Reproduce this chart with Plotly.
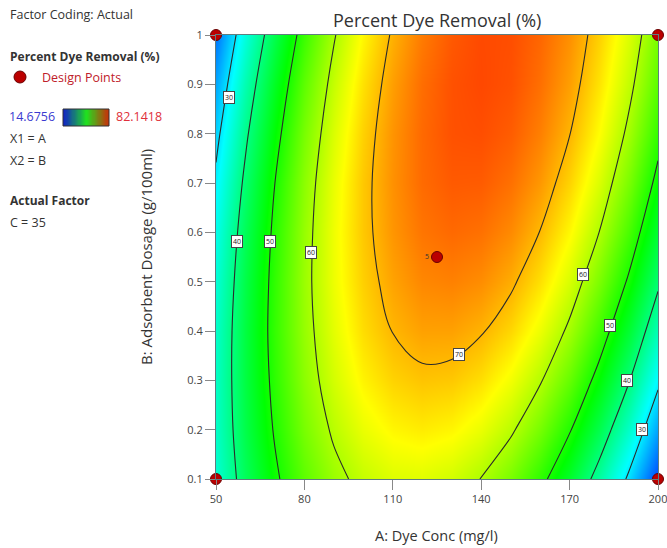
import plotly.graph_objects as go

# ---------------- data ----------------
dye_conc = [50, 60, 70, 80, 90, 100, 110, 120, 130, 140, 150, 160, 170, 180, 190, 200]   # A (mg/l)
dosage = [0.1, 0.2, 0.3, 0.4, 0.5, 0.6, 0.7, 0.8, 0.9, 1.0]                              # B (g/100ml)
# Percent dye removal (%) estimated on the grid, rows = dosage, cols = dye_conc
removal = [
    [34.5, 42.4, 49.1, 54.5, 58.6, 61.4, 63.0, 63.2, 62.2, 59.9, 56.3, 51.5, 45.4, 37.9, 29.2, 19.3],
    [35.2, 43.5, 50.5, 56.3, 60.7, 63.9, 65.8, 66.5, 65.8, 63.9, 60.7, 56.2, 50.4, 43.4, 35.1, 25.4],
    [35.4, 44.0, 51.4, 57.6, 62.4, 66.0, 68.2, 69.2, 68.9, 67.4, 64.5, 60.4, 55.0, 48.3, 40.4, 31.1],
    [35.1, 44.1, 51.9, 58.3, 63.5, 67.5, 70.1, 71.5, 71.5, 70.3, 67.9, 64.1, 59.1, 52.7, 45.1, 36.3],
    [34.2, 43.6, 51.7, 58.6, 64.2, 68.4, 71.4, 73.2, 73.6, 72.8, 70.7, 67.3, 62.6, 56.6, 49.4, 40.9],
    [32.9, 42.6, 51.1, 58.3, 64.3, 68.9, 72.3, 74.4, 75.2, 74.7, 73.0, 69.9, 65.6, 60.0, 53.2, 45.0],
    [31.0, 41.1, 50.0, 57.6, 63.9, 68.9, 72.6, 75.1, 76.2, 76.1, 74.7, 72.1, 68.1, 62.9, 56.4, 48.6],
    [28.6, 39.1, 48.3, 56.3, 62.9, 68.3, 72.4, 75.2, 76.8, 77.0, 76.0, 73.7, 70.1, 65.3, 59.1, 51.7],
    [25.7, 36.6, 46.2, 54.5, 61.5, 67.2, 71.7, 74.9, 76.8, 77.4, 76.8, 74.8, 71.6, 67.1, 61.3, 54.3],
    [22.3, 33.6, 43.5, 52.2, 59.6, 65.7, 70.5, 74.0, 76.3, 77.3, 77.0, 75.4, 72.6, 68.4, 63.0, 56.3],
]
z_min, z_max = 14.6756, 82.1418
contour_levels = [30, 40, 50, 60, 70]

design_A = [50, 50, 200, 200, 125]
design_B = [0.1, 1.0, 0.1, 1.0, 0.55]
design_text = ["", "", "", "", "5"]

x_ticks = [50, 80, 110, 140, 170, 200]
y_ticks = [0.1, 0.2, 0.3, 0.4, 0.5, 0.6, 0.7, 0.8, 0.9, 1.0]
y_ticktext = ["0.1", "0.2", "0.3", "0.4", "0.5", "0.6", "0.7", "0.8", "0.9", "1"]

# contour label placement (value, A, B)
label_vals = ["30", "40", "50", "60", "70", "60", "50", "40", "30"]
label_A = [54.4, 57.0, 68.3, 82.1, 132.5, 174.6, 183.7, 189.4, 194.5]
label_B = [0.874, 0.581, 0.581, 0.559, 0.353, 0.514, 0.412, 0.299, 0.200]

# ---------------- layout helpers ----------------
W, H = 667, 548
FONT = "Open Sans"
def px(x):
    return x / W
def py(y):
    return 1 - y / H

rainbow = [[0.0, "#0000ff"], [0.25, "#00ffff"], [0.5, "#00ff00"], [0.75, "#ffff00"], [1.0, "#ff0000"]]

fig = go.Figure()

fig.add_trace(go.Heatmap(
    x=dye_conc, y=dosage, z=removal, zmin=z_min, zmax=z_max,
    colorscale=rainbow, zsmooth="best", showscale=False, hoverinfo="skip",
))
fig.add_trace(go.Contour(
    x=dye_conc, y=dosage, z=removal,
    autocontour=False,
    contours=dict(start=contour_levels[0], end=contour_levels[-1], size=10, coloring="none"),
    line=dict(color="#2a2a2a", width=1.1, smoothing=1.0),
    showscale=False, hoverinfo="skip",
))
fig.add_trace(go.Scatter(
    x=design_A, y=design_B, mode="markers+text", text=design_text,
    textposition="middle left", textfont=dict(size=7, color="#333", family=FONT),
    marker=dict(size=11, color="#bb0000", line=dict(color="#6a0000", width=1)),
    cliponaxis=False, showlegend=False, hoverinfo="skip",
))

# legend colour bar (small heatmap on its own axes)
fig.add_trace(go.Heatmap(
    x=list(range(40)), y=[0], z=[list(range(40))],
    colorscale=[[0, "#1020c8"], [0.5, "#20e020"], [1, "#d02808"]],
    zsmooth="best", showscale=False, hoverinfo="skip", xaxis="x2", yaxis="y2",
))

axis_common = dict(showgrid=False, zeroline=False, showline=True, mirror=True, automargin=False,
                   linecolor="#5f7d7f", linewidth=1, ticks="outside", ticklen=10,
                   ticklabeloverflow="allow",
                   tickcolor="#888", tickfont=dict(size=11, color="#444", family=FONT))

fig.update_layout(
    template="none",
    width=W, height=H, margin=dict(l=0, r=0, t=0, b=0, pad=0),
    paper_bgcolor="white", plot_bgcolor="white", showlegend=False,
    font=dict(family=FONT, color="#333"),
    xaxis=dict(domain=[px(216), px(658)], range=[50, 200], tickvals=x_ticks, **axis_common),
    yaxis=dict(domain=[py(479), py(35)], range=[0.1, 1.0], tickvals=y_ticks,
               ticktext=y_ticktext, **axis_common),
    xaxis2=dict(domain=[px(63), px(109)], anchor="y2", visible=False, range=[0, 39], automargin=False),
    yaxis2=dict(domain=[py(126), py(109)], anchor="x2", visible=False, range=[-0.5, 0.5], automargin=False),
)

ann = []
# title and axis titles
ann.append(dict(x=px(437), y=py(20), text="Percent Dye Removal (%)", font=dict(size=18, color="#333")))
ann.append(dict(x=px(436), y=py(535), text="A: Dye Conc (mg/l)", font=dict(size=14.5, color="#333")))
ann.append(dict(x=px(146), y=py(257), text="B: Adsorbent Dosage (g/100ml)", textangle=-90,
                font=dict(size=15, color="#333")))
for a in ann:
    a.update(xref="paper", yref="paper", showarrow=False, xanchor="center", yanchor="middle")

left_items = [
    ("Factor Coding: Actual", 8, 14, "#333", False),
    ("Percent Dye Removal (%)", 8, 57, "#333", True),
    ("Design Points", 40, 77, "#c0202a", False),
    ("14.6756", 7, 117, "#3a3ad0", False),
    ("82.1418", 114, 117, "#e0303a", False),
    ("X1 = A", 8, 138, "#333", False),
    ("X2 = B", 8, 160, "#333", False),
    ("Actual Factor", 8, 200, "#333", True),
    ("C = 35", 8, 222, "#333", False),
]
for txt, x, y, col, bold in left_items:
    ann.append(dict(xref="paper", yref="paper", x=px(x), y=py(y), showarrow=False,
                    xanchor="left", yanchor="middle",
                    text=f"<b>{txt}</b>" if bold else txt,
                    font=dict(size=12 if bold else 12.5, color=col, family=FONT)))

for v, a_, b_ in zip(label_vals, label_A, label_B):
    ann.append(dict(xref="x", yref="y", x=a_, y=b_, text=v, showarrow=False,
                    font=dict(size=7, color="#222", family=FONT),
                    bgcolor="white", bordercolor="#444", borderwidth=1, borderpad=1))

fig.update_layout(annotations=ann)

fig.update_layout(shapes=[
    dict(type="circle", xref="paper", yref="paper", x0=px(14), x1=px(26), y0=py(83), y1=py(71),
         fillcolor="#bb0000", line=dict(color="#6a0000", width=1)),
    dict(type="rect", xref="paper", yref="paper", x0=px(63), x1=px(109), y0=py(126), y1=py(109),
         line=dict(color="#333", width=1)),
])

fig.write_html("out.html", config={"displayModeBar": False, "responsive": False},
               post_script="document.body.style.margin='0';document.body.style.overflow='hidden';")
